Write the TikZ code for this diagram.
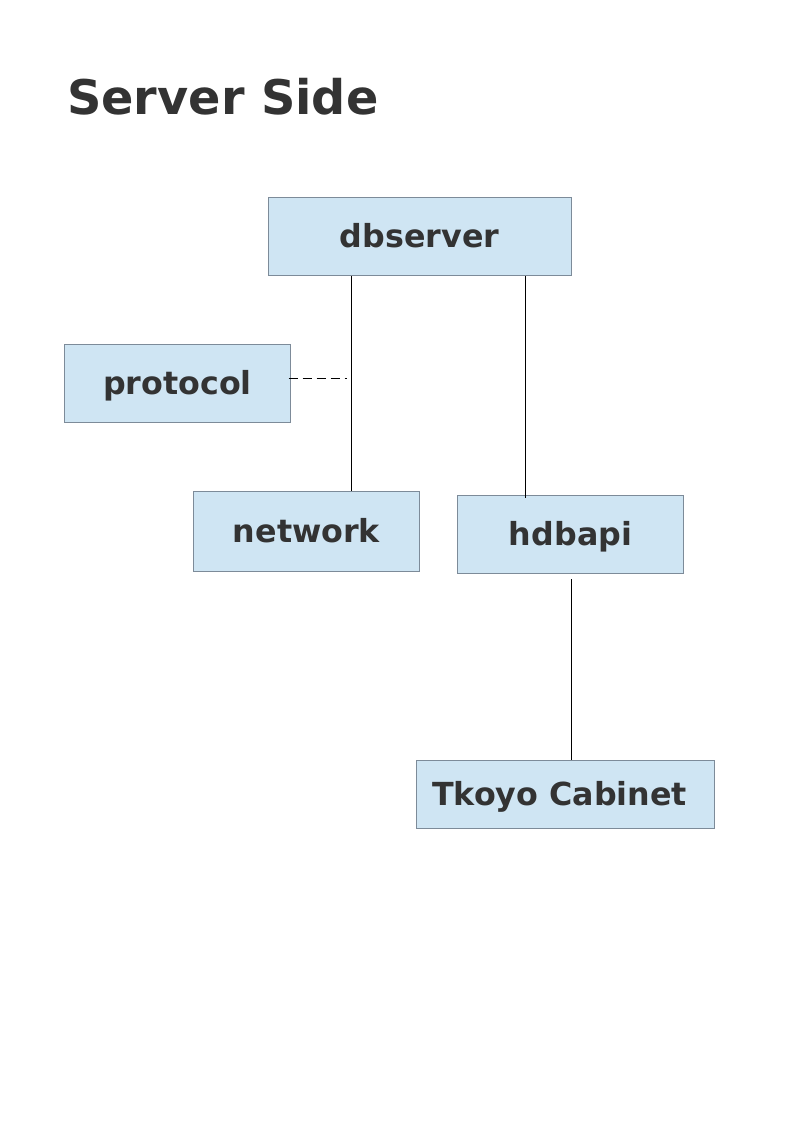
\documentclass[tikz,border=0pt]{standalone}
\usepackage{fontspec}
\setmainfont{DejaVu Sans}
\usepackage{tikz}
\usetikzlibrary{shapes,arrows}
\definecolor{fondo}{HTML}{CFE5F3}
\definecolor{bordo}{HTML}{7D8B99}
\definecolor{scritta}{HTML}{333333}
\tikzstyle{modulo} = [rectangle, draw=bordo, fill=fondo, line width=0.75pt,
    text=scritta, font=\fontsize{23.8}{28}\selectfont\bfseries,
    text height=18pt, text depth=1.5pt,
    minimum width=170pt, minimum height=59pt, inner sep=0pt]
\tikzstyle{legame} = [draw=black, line width=0.75pt]

\begin{document}
\begin{tikzpicture}[x=0.75pt, y=-0.75pt]
  \useasboundingbox (0,0) rectangle (794,1123);
  \node [anchor=base west, text=scritta, inner sep=0pt,
    font=\fontsize{35.8}{42}\selectfont\bfseries] (titolo) at (67,114.5) {Server Side};

  \node [modulo, minimum width=227.25pt] (dbserver) at (419.5,236.5) {dbserver};
  \node [modulo] (protocol) at (177.5,383.5) {protocol};
  \node [modulo, minimum height=60pt] (network) at (306.5,531) {network};
  \node [modulo] (hdbapi) at (570.5,534.5) {hdbapi};
  \node [modulo, minimum width=223.5pt, minimum height=51pt] (tkoyo) at (565,794)
    {\hspace*{-8pt}Tkoyo Cabinet};

  % punti di aggancio
  \coordinate (asse1) at (351,0);
  \coordinate (asse2) at (525,0);
  \coordinate (asse3) at (571,0);
  \coordinate (tratto) at (347,378);

  \draw [legame] (dbserver.south -| asse1) -- (network.north -| asse1);
  \draw [legame] (dbserver.south -| asse2) -- ([yshift=-2.5pt]hdbapi.north -| asse2);
  \draw [legame] ([yshift=-3.5pt]hdbapi.south -| asse3) -- (tkoyo.north -| asse3);
  \draw [legame, line width=0.6pt, dash pattern=on 7pt off 3.5pt]
    ([xshift=-2pt]protocol.east |- tratto) -- (tratto);

\end{tikzpicture}
\end{document}
